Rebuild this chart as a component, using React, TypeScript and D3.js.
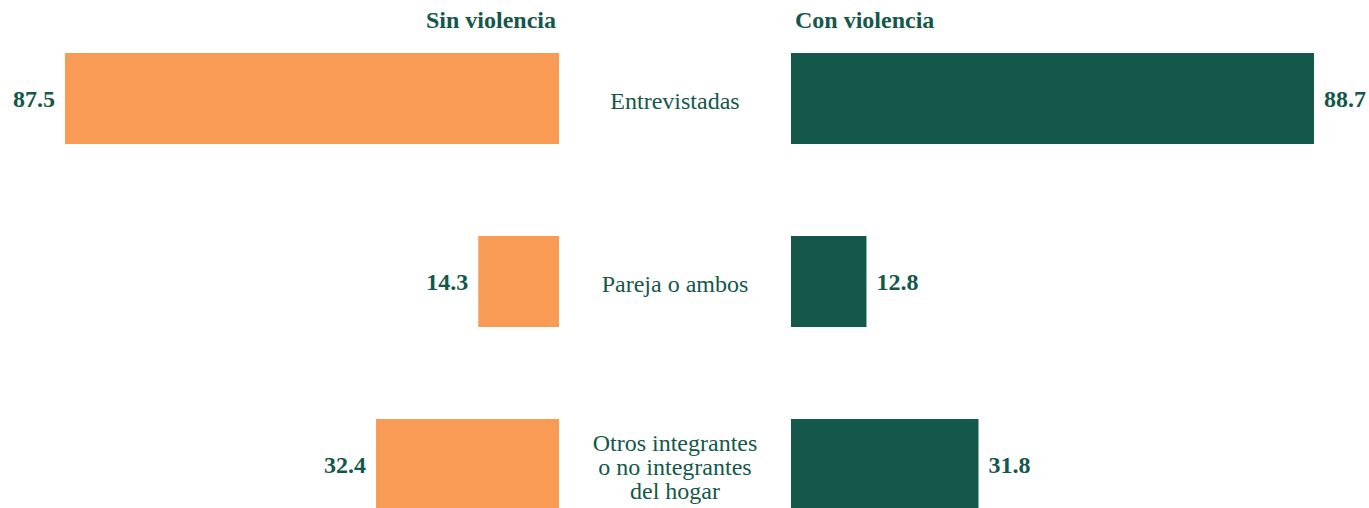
import React, { useRef, useEffect } from "react";
import * as d3 from "d3";

const categories = ["Entrevistadas", "Pareja o ambos", "Otros integrantes|o no integrantes|del hogar"];
const sinViolencia = [87.5, 14.3, 32.4];
const conViolencia = [88.7, 12.8, 31.8];
const headers = ["Sin violencia", "Con violencia"];

function App() {
    const svgRef = useRef<SVGSVGElement | null>(null);

    useEffect(() => {
        const width = 1369;
        const height = 508;
        const green = "#13584a";
        const orange = "#f79b55";
        const font = "'Liberation Serif', 'Times New Roman', serif";

        const svg = d3.select(svgRef.current);
        svg.selectAll("*").remove();
        svg.attr("width", width).attr("height", height);

        const leftEdge = 559;
        const rightEdge = 791;

        const y = d3
            .scaleBand()
            .domain(categories)
            .range([53, 510])
            .paddingInner(0.5027)
            .paddingOuter(0);

        const xLeft = d3.scaleLinear().domain([0, 100]).range([0, 564.6]);
        const xRight = d3.scaleLinear().domain([0, 100]).range([0, 589.6]);

        const rows = categories.map((c, i) => ({
            cat: c,
            sin: sinViolencia[i],
            con: conViolencia[i],
        }));

        // left bars
        svg.selectAll("rect.sin")
            .data(rows)
            .enter()
            .append("rect")
            .attr("class", "sin")
            .attr("x", (d) => leftEdge - xLeft(d.sin))
            .attr("y", (d) => y(d.cat)!)
            .attr("width", (d) => xLeft(d.sin))
            .attr("height", y.bandwidth())
            .attr("fill", orange);

        // right bars
        svg.selectAll("rect.con")
            .data(rows)
            .enter()
            .append("rect")
            .attr("class", "con")
            .attr("x", rightEdge)
            .attr("y", (d) => y(d.cat)!)
            .attr("width", (d) => xRight(d.con))
            .attr("height", y.bandwidth())
            .attr("fill", green);

        const mid = (d: { cat: string }) => y(d.cat)! + y.bandwidth() / 2;

        svg.selectAll("text.sinLabel")
            .data(rows)
            .enter()
            .append("text")
            .attr("class", "sinLabel")
            .attr("x", (d) => leftEdge - xLeft(d.sin) - 10)
            .attr("y", mid)
            .attr("dy", "0.35em")
            .attr("text-anchor", "end")
            .attr("font-family", font)
            .attr("font-weight", "bold")
            .attr("font-size", 24)
            .attr("fill", green)
            .text((d) => d.sin.toFixed(1));

        svg.selectAll("text.conLabel")
            .data(rows)
            .enter()
            .append("text")
            .attr("class", "conLabel")
            .attr("x", (d) => rightEdge + xRight(d.con) + 10)
            .attr("y", mid)
            .attr("dy", "0.35em")
            .attr("text-anchor", "start")
            .attr("font-family", font)
            .attr("font-weight", "bold")
            .attr("font-size", 24)
            .attr("fill", green)
            .text((d) => d.con.toFixed(1));

        // category labels in the middle
        const catText = svg
            .selectAll("text.cat")
            .data(rows)
            .enter()
            .append("text")
            .attr("class", "cat")
            .attr("x", (leftEdge + rightEdge) / 2)
            .attr("y", (d) => mid(d) + 2)
            .attr("text-anchor", "middle")
            .attr("font-family", font)
            .attr("font-size", 24)
            .attr("fill", green);

        catText.each(function (d) {
            const lines = d.cat.split("|");
            const t = d3.select(this);
            lines.forEach((line, i) => {
                t.append("tspan")
                    .attr("x", (leftEdge + rightEdge) / 2)
                    .attr("dy", i === 0 ? `${0.35 - ((lines.length - 1) * 1.0) / 2}em` : "1.0em")
                    .text(line);
            });
        });

        // headers
        svg.append("text")
            .attr("x", 556)
            .attr("y", 28)
            .attr("text-anchor", "end")
            .attr("font-family", font)
            .attr("font-weight", "bold")
            .attr("font-size", 24)
            .attr("fill", green)
            .text(headers[0]);

        svg.append("text")
            .attr("x", 795)
            .attr("y", 28)
            .attr("text-anchor", "start")
            .attr("font-family", font)
            .attr("font-weight", "bold")
            .attr("font-size", 24)
            .attr("fill", green)
            .text(headers[1]);
    }, []);

    return (
        <svg ref={svgRef} style={{ position: "absolute", left: 0, top: 0, display: "block" }}></svg>
    );
}

export default App;
